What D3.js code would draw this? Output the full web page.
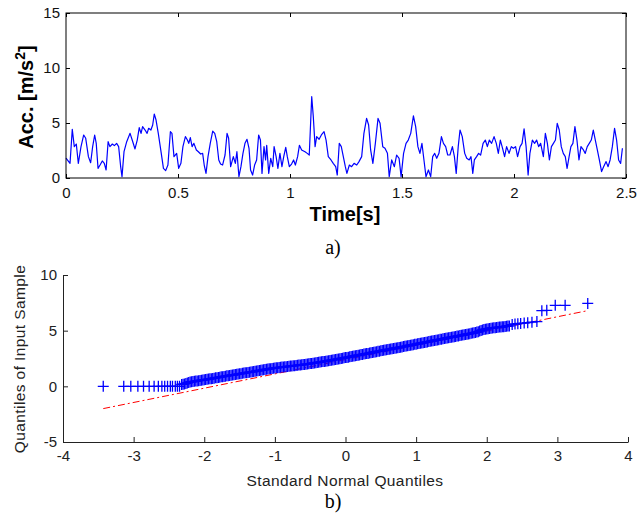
<!DOCTYPE html>
<html>
<head>
<meta charset="utf-8">
<script src="https://cdn.jsdelivr.net/npm/d3@7"></script>
<style>
  body { margin: 0; background: #fff; }
  text { font-family: "Liberation Sans", Arial, sans-serif; }
</style>
</head>
<body>
<svg id="chart" width="638" height="516"></svg>
<script>
// a) acceleration record
const time = [0, 0.018, 0.028, 0.037, 0.046, 0.055, 0.067, 0.079, 0.088, 0.1, 0.11, 0.119, 0.128, 0.135, 0.143, 0.152, 0.162, 0.171, 0.179, 0.188, 0.196, 0.207, 0.216, 0.226, 0.235, 0.244, 0.25, 0.259, 0.271, 0.286, 0.298, 0.308, 0.318, 0.327, 0.335, 0.342, 0.353, 0.362, 0.369, 0.379, 0.387, 0.394, 0.402, 0.412, 0.423, 0.435, 0.445, 0.455, 0.466, 0.473, 0.482, 0.494, 0.503, 0.513, 0.522, 0.533, 0.542, 0.548, 0.555, 0.563, 0.571, 0.582, 0.591, 0.601, 0.61, 0.617, 0.625, 0.634, 0.644, 0.655, 0.664, 0.673, 0.682, 0.69, 0.699, 0.71, 0.719, 0.726, 0.735, 0.747, 0.756, 0.763, 0.772, 0.781, 0.79, 0.799, 0.808, 0.817, 0.824, 0.833, 0.842, 0.851, 0.86, 0.868, 0.875, 0.884, 0.891, 0.896, 0.905, 0.914, 0.923, 0.929, 0.938, 0.946, 0.955, 0.964, 0.972, 0.981, 0.988, 0.997, 1.007, 1.016, 1.024, 1.034, 1.042, 1.052, 1.067, 1.077, 1.086, 1.097, 1.104, 1.112, 1.119, 1.13, 1.14, 1.152, 1.161, 1.171, 1.183, 1.193, 1.204, 1.211, 1.22, 1.229, 1.238, 1.247, 1.254, 1.265, 1.275, 1.286, 1.298, 1.308, 1.32, 1.33, 1.342, 1.351, 1.36, 1.37, 1.381, 1.393, 1.402, 1.414, 1.424, 1.435, 1.443, 1.454, 1.466, 1.476, 1.487, 1.496, 1.507, 1.518, 1.528, 1.539, 1.551, 1.561, 1.571, 1.58, 1.589, 1.598, 1.607, 1.618, 1.628, 1.637, 1.646, 1.655, 1.665, 1.676, 1.685, 1.695, 1.704, 1.714, 1.725, 1.734, 1.742, 1.751, 1.759, 1.769, 1.78, 1.789, 1.8, 1.808, 1.816, 1.823, 1.833, 1.842, 1.851, 1.862, 1.872, 1.881, 1.89, 1.9, 1.911, 1.921, 1.93, 1.939, 1.949, 1.958, 1.967, 1.978, 1.988, 1.997, 2.007, 2.016, 2.027, 2.036, 2.045, 2.054, 2.063, 2.071, 2.082, 2.092, 2.101, 2.11, 2.119, 2.131, 2.14, 2.149, 2.158, 2.167, 2.176, 2.185, 2.193, 2.202, 2.211, 2.22, 2.229, 2.237, 2.246, 2.254, 2.263, 2.272, 2.281, 2.29, 2.299, 2.31, 2.318, 2.327, 2.336, 2.345, 2.354, 2.363, 2.372, 2.381, 2.391, 2.4, 2.411, 2.42, 2.429, 2.439, 2.449, 2.458, 2.467, 2.476, 2.484]
const acc = [1.8, 1.33, 4.42, 2.85, 3.09, 1.33, 2.85, 3.91, 3.61, 1.94, 1.39, 2.85, 3.91, 3.15, 0.88, 1.18, 1.55, 1.33, 0.73, 3.3, 2.85, 3.09, 2.94, 3.15, 2.85, 1.03, 0.12, 2.39, 3.3, 4.06, 3.3, 2.64, 3.45, 4.58, 4.06, 4.67, 4.36, 4.06, 4.52, 4.36, 4.82, 5.82, 5.27, 4.06, 2.55, 0.88, 0.67, 1.18, 4.21, 4.06, 1.94, 2.24, 0.88, 1.33, 2.85, 3.76, 3.45, 3.15, 3.67, 2.85, 3.15, 2.55, 2.39, 2.18, 2.24, 1.18, 0.42, 1.94, 3.15, 4.27, 4.06, 3.3, 1.64, 1.27, 1.18, 2.09, 4.06, 3.61, 1.03, 1.94, 1.33, 2.39, 0.12, 1.03, 2.24, 3.15, 3.52, 2.7, 0.73, 0.27, 1.18, 1.64, 3.91, 3.45, 0.42, 2.85, 1.64, 2.97, 0.42, 1.79, 1.03, 2.85, 1.94, 0.88, 2.24, 1.03, 1.94, 2.79, 1.94, 1.03, 1.27, 1.64, 1.18, 1.94, 2.97, 2.55, 2.39, 2.24, 2.09, 7.39, 5.58, 2.85, 3.76, 3.52, 3.91, 4.21, 3.45, 1.94, 1.64, 1.33, 1.03, 0.27, 3.15, 2.85, 1.94, 1.03, 0.42, 1.18, 1.03, 1.33, 1.18, 1.49, 1.94, 4.06, 5.42, 4.82, 2.55, 1.33, 3.15, 5.42, 4.97, 2.85, 2.7, 2.24, 0.12, 1.64, 1.03, 2.09, 1.79, 0.12, 2.24, 3.15, 3.45, 4.06, 5.64, 4.67, 2.85, 2.24, 3.15, 1.64, 0.12, 0.73, 0.12, 1.94, 2.24, 1.79, 2.24, 3.76, 3.15, 2.85, 2.09, 2.09, 2.85, 1.94, 0.42, 2.85, 4.36, 3.76, 2.24, 1.79, 1.64, 1.94, 0.42, 1.64, 1.94, 2.24, 2.09, 3.15, 3.45, 2.85, 3.45, 3.15, 3.76, 3.15, 2.24, 3.45, 2.7, 1.94, 2.85, 2.24, 2.85, 2.7, 2.85, 1.94, 2.85, 3.15, 4.46, 2.85, 0.27, 2.24, 3.45, 3.15, 3.45, 2.85, 3.15, 1.94, 4.06, 3.15, 1.64, 2.85, 3.15, 3.45, 4.97, 4.36, 2.85, 2.24, 1.94, 0.88, 1.94, 2.85, 3.15, 4.67, 3.45, 1.64, 2.85, 2.55, 2.24, 2.85, 3.15, 3.45, 4.36, 3.45, 2.55, 1.64, 0.58, 1.03, 1.49, 1.03, 1.64, 2.85, 4.52, 3.45, 1.64, 1.33, 2.7]
const timeTicks = [0, 0.5, 1, 1.5, 2, 2.5]
const accTicks = [0, 5, 10, 15]

// b) normal probability plot, read off the markers
// sparse lower tail
const tailLowNormal = [-3.43, -3.14, -3.04, -2.94, -2.86, -2.78, -2.71, -2.65, -2.6, -2.56, -2.52, -2.48, -2.45, -2.41, -2.38, -2.35]
const tailLowSample = [0, 0, 0, 0, 0, 0, 0, 0, 0, 0, 0, 0, 0, 0, 0, 0]
// dense middle band
const bandNormal = [-2.32, -2.3, -2.28, -2.26, -2.24, -2.22, -2.2, -2.18, -2.16, -2.14, -2.12, -2.1, -2.08, -2.06, -2.04, -2.02, -2, -1.98, -1.96, -1.94, -1.92, -1.9, -1.88, -1.86, -1.84, -1.82, -1.8, -1.78, -1.76, -1.74, -1.72, -1.7, -1.68, -1.66, -1.64, -1.62, -1.6, -1.58, -1.56, -1.54, -1.52, -1.5, -1.48, -1.46, -1.44, -1.42, -1.4, -1.38, -1.36, -1.34, -1.32, -1.3, -1.28, -1.26, -1.24, -1.22, -1.2, -1.18, -1.16, -1.14, -1.12, -1.1, -1.08, -1.06, -1.04, -1.02, -1, -0.98, -0.96, -0.94, -0.92, -0.9, -0.88, -0.86, -0.84, -0.82, -0.8, -0.78, -0.76, -0.74, -0.72, -0.7, -0.68, -0.66, -0.64, -0.62, -0.6, -0.58, -0.56, -0.54, -0.52, -0.5, -0.48, -0.46, -0.44, -0.42, -0.4, -0.38, -0.36, -0.34, -0.32, -0.3, -0.28, -0.26, -0.24, -0.22, -0.2, -0.18, -0.16, -0.14, -0.12, -0.1, -0.08, -0.06, -0.04, -0.02, 0, 0.02, 0.04, 0.06, 0.08, 0.1, 0.12, 0.14, 0.16, 0.18, 0.2, 0.22, 0.24, 0.26, 0.28, 0.3, 0.32, 0.34, 0.36, 0.38, 0.4, 0.42, 0.44, 0.46, 0.48, 0.5, 0.52, 0.54, 0.56, 0.58, 0.6, 0.62, 0.64, 0.66, 0.68, 0.7, 0.72, 0.74, 0.76, 0.78, 0.8, 0.82, 0.84, 0.86, 0.88, 0.9, 0.92, 0.94, 0.96, 0.98, 1, 1.02, 1.04, 1.06, 1.08, 1.1, 1.12, 1.14, 1.16, 1.18, 1.2, 1.22, 1.24, 1.26, 1.28, 1.3, 1.32, 1.34, 1.36, 1.38, 1.4, 1.42, 1.44, 1.46, 1.48, 1.5, 1.52, 1.54, 1.56, 1.58, 1.6, 1.62, 1.64, 1.66, 1.68, 1.7, 1.72, 1.74, 1.76, 1.78, 1.8, 1.82, 1.84, 1.86, 1.88, 1.9, 1.92, 1.94, 1.96, 1.98, 2, 2.02, 2.04, 2.06, 2.08, 2.1, 2.12, 2.14, 2.16, 2.18, 2.2, 2.22, 2.24, 2.26, 2.28, 2.3, 2.32]
const bandSample = [0.17, 0.19, 0.22, 0.26, 0.3, 0.35, 0.39, 0.41, 0.43, 0.45, 0.47, 0.49, 0.51, 0.53, 0.55, 0.57, 0.59, 0.61, 0.63, 0.65, 0.67, 0.69, 0.71, 0.73, 0.76, 0.78, 0.8, 0.82, 0.85, 0.87, 0.89, 0.91, 0.94, 0.96, 0.98, 1, 1.02, 1.04, 1.06, 1.08, 1.1, 1.12, 1.14, 1.17, 1.19, 1.21, 1.23, 1.25, 1.27, 1.29, 1.31, 1.33, 1.35, 1.38, 1.4, 1.42, 1.44, 1.46, 1.48, 1.51, 1.53, 1.55, 1.57, 1.59, 1.61, 1.63, 1.65, 1.67, 1.68, 1.7, 1.71, 1.73, 1.74, 1.76, 1.77, 1.79, 1.8, 1.82, 1.83, 1.85, 1.86, 1.88, 1.89, 1.91, 1.92, 1.94, 1.95, 1.97, 1.99, 2, 2.02, 2.04, 2.06, 2.08, 2.1, 2.12, 2.14, 2.16, 2.18, 2.2, 2.22, 2.24, 2.26, 2.28, 2.3, 2.33, 2.35, 2.37, 2.39, 2.41, 2.43, 2.46, 2.48, 2.51, 2.53, 2.56, 2.58, 2.6, 2.62, 2.65, 2.67, 2.7, 2.72, 2.75, 2.77, 2.8, 2.82, 2.85, 2.87, 2.9, 2.92, 2.94, 2.96, 2.99, 3.01, 3.04, 3.06, 3.09, 3.11, 3.14, 3.16, 3.19, 3.21, 3.24, 3.26, 3.28, 3.3, 3.33, 3.35, 3.38, 3.4, 3.43, 3.45, 3.47, 3.49, 3.52, 3.54, 3.57, 3.59, 3.62, 3.64, 3.67, 3.69, 3.72, 3.74, 3.77, 3.79, 3.82, 3.84, 3.87, 3.89, 3.92, 3.94, 3.97, 3.99, 4.02, 4.04, 4.07, 4.09, 4.12, 4.14, 4.17, 4.19, 4.22, 4.24, 4.27, 4.29, 4.32, 4.34, 4.37, 4.39, 4.41, 4.43, 4.46, 4.48, 4.51, 4.53, 4.56, 4.58, 4.61, 4.63, 4.66, 4.68, 4.71, 4.73, 4.76, 4.78, 4.81, 4.84, 4.87, 4.9, 4.96, 5.02, 5.06, 5.1, 5.13, 5.16, 5.18, 5.2, 5.22, 5.24, 5.26, 5.27, 5.29, 5.3, 5.32, 5.33, 5.35, 5.36, 5.38, 5.4, 5.42, 5.43]
// sparse upper tail
const tailHighNormal = [2.36, 2.4, 2.44, 2.48, 2.53, 2.58, 2.64, 2.71, 2.78, 2.85, 2.97, 3.11, 3.43]
const tailHighSample = [5.55, 5.6, 5.63, 5.65, 5.68, 5.72, 5.76, 5.82, 6.8, 6.83, 7.28, 7.28, 7.45]
// dash-dot reference line end points
const refNormal = [-3.43, 3.43]
const refSample = [-2.0, 6.8]
const normalTicks = [-4, -3, -2, -1, 0, 1, 2, 3, 4]
const sampleTicks = [-5, 0, 5, 10]

const svg = d3.select("#chart")

// ---------- panel a ----------
let xA = d3.scaleLinear().domain([0, 2.5]).range([66, 626])
let yA = d3.scaleLinear().domain([0, 15]).range([178, 13])

svg.append("path")
    .datum(d3.zip(time, acc))
    .attr("fill", "none")
    .attr("stroke", "#0000ff")
    .attr("stroke-width", 1.2)
    .attr("stroke-linejoin", "round")
    .attr("d", d3.line().x(d => xA(d[0])).y(d => yA(d[1])))

svg.append("rect")
    .attr("x", 66).attr("y", 13)
    .attr("width", 560).attr("height", 165)
    .attr("fill", "none").attr("stroke", "#000").attr("stroke-width", 1)

const styleAxis = (g, size) => {
    g.select(".domain").remove()
    g.selectAll("line").attr("stroke", "#000")
    g.selectAll("text").attr("fill", "#111").style("font-size", size + "px")
        .style("font-family", "'Liberation Sans', Arial, sans-serif")
}
const plain = d => String(d)

svg.append("g").attr("transform", "translate(0,178)")
    .call(d3.axisBottom(xA).tickValues(timeTicks).tickFormat(plain).tickSizeInner(-4).tickSizeOuter(0).tickPadding(9))
    .call(g => styleAxis(g, 15))
svg.append("g").attr("transform", "translate(0,13)")
    .call(d3.axisTop(xA).tickValues(timeTicks).tickFormat("").tickSizeInner(-4).tickSizeOuter(0))
    .call(g => styleAxis(g, 15))
svg.append("g").attr("transform", "translate(66,0)")
    .call(d3.axisLeft(yA).tickValues(accTicks).tickFormat(plain).tickSizeInner(-4).tickSizeOuter(0).tickPadding(6))
    .call(g => styleAxis(g, 15))
svg.append("g").attr("transform", "translate(626,0)")
    .call(d3.axisRight(yA).tickValues(accTicks).tickFormat("").tickSizeInner(-4).tickSizeOuter(0))
    .call(g => styleAxis(g, 15))

let accLabel = svg.append("text")
    .attr("transform", "translate(33,97) rotate(-90)")
    .attr("text-anchor", "middle")
    .style("font-size", "20px").style("font-weight", "bold")
accLabel.append("tspan").text("Acc. [m/s")
accLabel.append("tspan").text("2").attr("dy", -8).style("font-size", "14px")
accLabel.append("tspan").text("]").attr("dy", 8)

svg.append("text")
    .attr("x", 345).attr("y", 221)
    .attr("text-anchor", "middle")
    .style("font-size", "20px").style("font-weight", "bold")
    .text("Time[s]")

svg.append("text")
    .attr("x", 333).attr("y", 254)
    .attr("text-anchor", "middle")
    .style("font-family", "'Liberation Serif', 'Times New Roman', serif")
    .style("font-size", "20px")
    .text("a)")

// ---------- panel b ----------
let xB = d3.scaleLinear().domain([-4, 4]).range([63, 628])
let yB = d3.scaleLinear().domain([-5, 10]).range([442, 275])

svg.append("path")
    .datum(d3.zip(refNormal, refSample))
    .attr("fill", "none")
    .attr("stroke", "#ff0000")
    .attr("stroke-width", 1)
    .attr("stroke-dasharray", "7,3,2,3")
    .attr("d", d3.line().x(d => xB(d[0])).y(d => yB(d[1])))

const qqPoints = [
    ...d3.zip(tailLowNormal, tailLowSample),
    ...d3.zip(bandNormal, bandSample),
    ...d3.zip(tailHighNormal, tailHighSample)
]
const half = 5.5
svg.append("g")
    .selectAll("path")
    .data(qqPoints)
    .join("path")
    .attr("fill", "none")
    .attr("stroke", "#0000ff")
    .attr("stroke-width", 1.3)
    .attr("d", d => {
        let cx = xB(d[0]), cy = yB(d[1])
        return `M${cx - half},${cy}H${cx + half}M${cx},${cy - half}V${cy + half}`
    })

svg.append("g").attr("transform", "translate(0,442)")
    .call(d3.axisBottom(xB).tickValues(normalTicks).tickFormat(plain).tickSizeInner(-5).tickSizeOuter(0).tickPadding(8))
    .call(g => g.select(".domain").attr("stroke", "#222"))
    .call(g => g.selectAll("line").attr("stroke", "#222"))
    .call(g => g.selectAll("text").attr("fill", "#222").style("font-size", "15px"))
svg.append("g").attr("transform", "translate(63,0)")
    .call(d3.axisLeft(yB).tickValues(sampleTicks).tickFormat(plain).tickSizeInner(-5).tickSizeOuter(0).tickPadding(6))
    .call(g => g.select(".domain").attr("stroke", "#222"))
    .call(g => g.selectAll("line").attr("stroke", "#222"))
    .call(g => g.selectAll("text").attr("fill", "#222").style("font-size", "15px"))

svg.append("text")
    .attr("x", 345).attr("y", 486)
    .attr("text-anchor", "middle")
    .attr("fill", "#222")
    .style("font-size", "15.5px")
    .style("letter-spacing", "0.4px")
    .text("Standard Normal Quantiles")

svg.append("text")
    .attr("transform", "translate(25,359) rotate(-90)")
    .attr("text-anchor", "middle")
    .attr("fill", "#222")
    .style("font-size", "15.5px")
    .style("letter-spacing", "0.4px")
    .text("Quantiles of Input Sample")

svg.append("text")
    .attr("x", 333).attr("y", 508)
    .attr("text-anchor", "middle")
    .style("font-family", "'Liberation Serif', 'Times New Roman', serif")
    .style("font-size", "20px")
    .text("b)")
</script>
</body>
</html>
